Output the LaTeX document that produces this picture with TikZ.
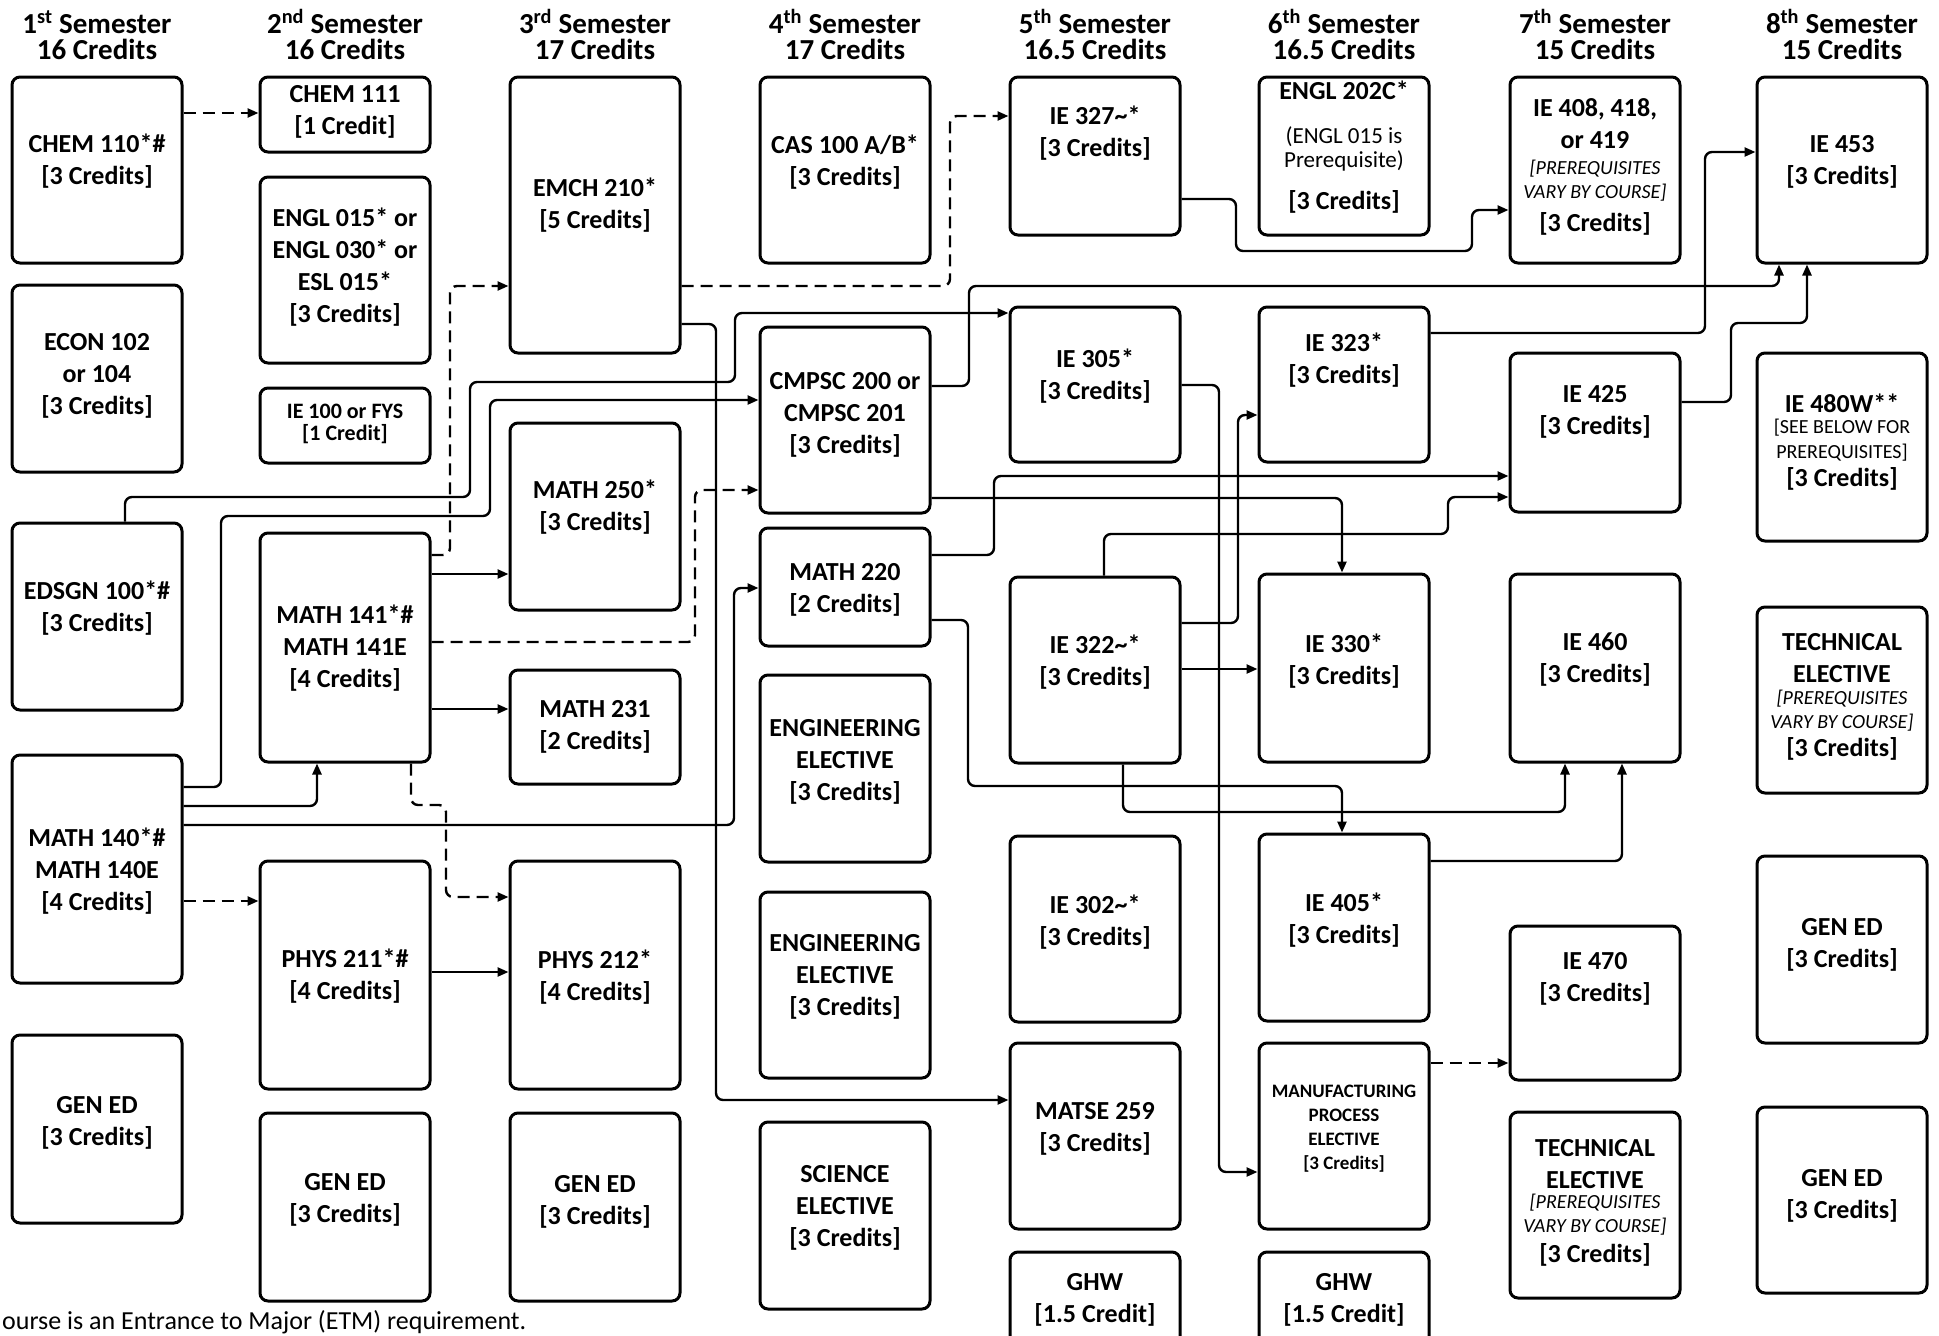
\documentclass[tikz,border=0pt]{standalone}
\usepackage{fontspec}
\setmainfont{Carlito}
\usetikzlibrary{arrows.meta}

\newcommand\bodyfont{\fontsize{26}{32}\selectfont\bfseries}
\newcommand\headfont{\fontsize{29}{27}\selectfont\bfseries}
\newcommand\smallit{\fontsize{20}{24}\selectfont\itshape}
\newcommand\smallrm{\fontsize{20}{25}\selectfont}
\newcommand\midrm{\fontsize{23}{24}\selectfont}

% name, cx, top, bottom, text centre y, text
\newcommand\course[7][]{%
  \node[box, minimum height=#5pt-#4pt] (#2) at (#3,{(#4+#5)/2}) {};
  \node[txt,#1] (#2-t) at (#3,#6) {#7};}
\newcommand\emptybox[4]{%
  \node[box, minimum height=#4pt-#3pt] (#1) at (#2,{(#3+#4)/2}) {};}

\begin{document}
\begin{tikzpicture}[x=1pt,y=-1pt,
  box/.style={draw, line width=3pt, rounded corners=8pt, minimum width=170pt, inner sep=0pt},
  txt/.style={align=center, font=\bodyfont, inner sep=0pt},
  hd/.style={font=\headfont, anchor=base, inner sep=0pt},
  conn/.style={line width=2.4pt, rounded corners=7pt, -{Triangle[length=11pt,width=9pt]}},
  dconn/.style={conn, dash pattern=on 12pt off 7pt}]

\useasboundingbox (0,0) rectangle (1939,1336);
\clip (0,0) rectangle (1939,1336);
\fill[white] (0,0) rectangle (1939,1336);

% headers
\foreach \x/\o/\s/\c [count=\i] in {97/1/st/16, 345/2/nd/16, 595/3/rd/17, 845/4/th/17, 1095/5/th/16.5, 1344/6/th/16.5, 1595/7/th/15, 1842/8/th/15} {
  \node[hd] (h\i a) at (\x,33) {\o\textsuperscript{\s} Semester};
  \node[hd] (h\i b) at (\x,59) {\c\ Credits};
}

% column 1
\course{chemA}{97}{77}{263}{161}{CHEM 110*\#\\{}[3 Credits]}
\course{econ}{97}{285}{472}{376}{ECON 102\\or 104\\{}[3 Credits]}
\course{edsgn}{97}{523}{710}{608}{EDSGN 100*\#\\{}[3 Credits]}
\course{mathA}{97}{755}{983}{871}{MATH 140*\#\\MATH 140E\\{}[4 Credits]}
\course{genA}{97}{1035}{1223}{1123}{GEN ED\\{}[3 Credits]}

% column 2
\course{chemB}{345}{77}{152}{112}{CHEM 111\\{}[1 Credit]}
\course{engl}{345}{177}{363}{267}{ENGL 015* or\\ENGL 030* or\\ESL 015*\\{}[3 Credits]}
\course[font=\fontsize{22}{22}\selectfont\bfseries]{ieA}{345}{388}{463}{424}{IE 100 or FYS\\{}[1 Credit]}
\course{mathB}{345}{533}{762}{648}{MATH 141*\#\\MATH 141E\\{}[4 Credits]}
\course{physA}{345}{861}{1089}{976}{PHYS 211*\#\\{}[4 Credits]}
\course{genB}{345}{1113}{1301}{1200}{GEN ED\\{}[3 Credits]}

% column 3
\course{emch}{595}{77}{353}{205}{EMCH 210*\\{}[5 Credits]}
\course{mathC}{595}{423}{610}{507}{MATH 250*\\{}[3 Credits]}
\course{mathD}{595}{670}{784}{727}{MATH 231\\{}[2 Credits]}
\course{physB}{595}{861}{1089}{977}{PHYS 212*\\{}[4 Credits]}
\course{genC}{595}{1113}{1301}{1202}{GEN ED\\{}[3 Credits]}

% column 4
\course{cas}{845}{77}{263}{162}{CAS 100 A/B*\\{}[3 Credits]}
\course{cmpsc}{845}{327}{513}{415}{CMPSC 200 or\\CMPSC 201\\{}[3 Credits]}
\course{mathE}{845}{528}{646}{590}{MATH 220\\{}[2 Credits]}
\course{engA}{845}{675}{862}{762}{ENGINEERING\\ELECTIVE\\{}[3 Credits]}
\course{engB}{845}{892}{1078}{977}{ENGINEERING\\ELECTIVE\\{}[3 Credits]}
\course{sci}{845}{1122}{1309}{1208}{SCIENCE\\ELECTIVE\\{}[3 Credits]}

% column 5
\course{ieB}{1095}{77}{235}{133}{IE 327\textasciitilde*\\{}[3 Credits]}
\course{ieC}{1095}{307}{462}{376}{IE 305*\\{}[3 Credits]}
\course{ieD}{1095}{577}{763}{662}{IE 322\textasciitilde*\\{}[3 Credits]}
\course{ieE}{1095}{836}{1022}{922}{IE 302\textasciitilde*\\{}[3 Credits]}
\course{matse}{1095}{1043}{1229}{1129}{MATSE 259\\{}[3 Credits]}
\course{ghwA}{1095}{1252}{1390}{1300}{GHW\\{}[1.5 Credit]}

% column 6
\emptybox{englB}{1344}{77}{235}
\node[txt] (englB-a) at (1344,90) {ENGL 202C*};
\node[txt,font=\midrm] (englB-b) at (1344,149) {(ENGL 015 is\\Prerequisite)};
\node[txt] (englB-c) at (1344,202) {[3 Credits]};
\course{ieF}{1344}{307}{462}{360}{IE 323*\\{}[3 Credits]}
\course{ieG}{1344}{574}{762}{661}{IE 330*\\{}[3 Credits]}
\course{ieH}{1344}{834}{1021}{920}{IE 405*\\{}[3 Credits]}
\course[font=\fontsize{19}{24}\selectfont\bfseries]{manuf}{1344}{1043}{1229}{1129}{MANUFACTURING\\PROCESS\\ELECTIVE\\{}[3 Credits]}
\course{ghwB}{1344}{1252}{1390}{1300}{GHW\\{}[1.5 Credit]}

% column 7
\emptybox{ieI}{1595}{77}{263}
\node[txt] (ieI-a) at (1595,124) {IE 408, 418,\\or 419};
\node[txt,font=\smallit] (ieI-b) at (1595,180.5) {[PREREQUISITES\\VARY BY COURSE]};
\node[txt] (ieI-c) at (1595,224) {[3 Credits]};
\course{ieJ}{1595}{353}{512}{412}{IE 425\\{}[3 Credits]}
\course{ieK}{1595}{574}{762}{660}{IE 460\\{}[3 Credits]}
\course{ieL}{1595}{926}{1080}{979}{IE 470\\{}[3 Credits]}
\emptybox{techA}{1595}{1112}{1298}
\node[txt] (techA-a) at (1595,1164) {TECHNICAL\\ELECTIVE};
\node[txt,font=\smallit] (techA-b) at (1595,1215) {[PREREQUISITES\\VARY BY COURSE]};
\node[txt] (techA-c) at (1595,1255) {[3 Credits]};

% column 8
\course{ieM}{1842}{77}{263}{162}{IE 453\\{}[3 Credits]}
\emptybox{ieN}{1842}{353}{541}
\node[txt] (ieN-a) at (1842,403) {IE 480W**};
\node[txt,font=\smallrm] (ieN-b) at (1842,440.5) {[SEE BELOW FOR\\PREREQUISITES]};
\node[txt] (ieN-c) at (1842,479) {[3 Credits]};
\emptybox{techB}{1842}{607}{793}
\node[txt] (techB-a) at (1842,658) {TECHNICAL\\ELECTIVE};
\node[txt,font=\smallit] (techB-b) at (1842,710.5) {[PREREQUISITES\\VARY BY COURSE]};
\node[txt] (techB-c) at (1842,749) {[3 Credits]};
\course{genD}{1842}{856}{1043}{945}{GEN ED\\{}[3 Credits]}
\course{genE}{1842}{1107}{1293}{1196}{GEN ED\\{}[3 Credits]}

% footnote
\node[anchor=base west, font=\fontsize{26}{30}\selectfont, inner sep=0pt] (note) at (2,1329) {ourse is an Entrance to Major (ETM) requirement.};

% connectors
\draw[dconn] (chemA.east |- 0,113) -- (chemB.west |- 0,113);
\draw[dconn] (mathB.east |- 0,555) -| (450,286) -- (emch.west |- 0,286);
\draw[dconn] (emch.east |- 0,286) -| (950,116) -- (ieB.west |- 0,116);
\draw[conn] (emch.east |- 0,324) -| (716,1100) -- (matse.west |- 0,1100);
\draw[conn] (edsgn.north -| 125,0) |- (470,497) |- (735,382) |- (ieC.west |- 0,313);
\draw[conn] (mathA.east |- 0,787) -| (221,516) -| (490,400) -- (cmpsc.west |- 0,400);
\draw[conn] (mathA.east |- 0,806) -| (mathB.south -| 317,0);
\draw[conn] (mathA.east |- 0,825) -| (734,588) -- (mathE.west |- 0,588);
\draw[dconn] (mathA.east |- 0,901) -- (physA.west |- 0,901);
\draw[conn] (physA.east |- 0,972) -- (physB.west |- 0,972);
\draw[conn] (mathB.east |- 0,574) -- (mathC.west |- 0,574);
\draw[conn] (mathB.east |- 0,709) -- (mathD.west |- 0,709);
\draw[dconn] (mathB.east |- 0,642) -| (695,490) -- (cmpsc.west |- 0,490);
\draw[dconn] (mathB.south -| 411,0) |- (446,805) |- (physB.west |- 0,897);
\draw[conn] (cmpsc.east |- 0,386) -| (969,286) -| (ieM.south -| 1779,0);
\draw[conn] (ieF.east |- 0,333) -| (1705,152) -- (ieM.west |- 0,152);
\draw[conn] (ieJ.east |- 0,402) -| (1731,323) -| (ieM.south -| 1807,0);
\draw[conn] (ieB.east |- 0,199) -| (1236,251) -| (1472,210) -- (ieI.west |- 0,210);
\draw[conn] (ieC.east |- 0,385) -| (1219,1172) -- (manuf.west |- 0,1172);
\draw[conn] (ieD.east |- 0,623) -| (1238,415) -- (ieF.west |- 0,415);
\draw[conn] (cmpsc.east |- 0,498) -| (ieG.north -| 1342,0);
\draw[conn] (mathE.east |- 0,555) -| (994,476) -- (ieJ.west |- 0,476);
\draw[conn] (ieD.north -| 1104,0) |- (1448,534) |- (ieJ.west |- 0,497);
\draw[conn] (ieD.east |- 0,669) -- (ieG.west |- 0,669);
\draw[conn] (mathE.east |- 0,620) -| (968,786) -| (ieH.north -| 1342,0);
\draw[conn] (ieD.south -| 1123,0) |- (1565,812) -- (ieK.south -| 1565,0);
\draw[conn] (ieH.east |- 0,861) -| (ieK.south -| 1622,0);
\draw[dconn] (manuf.east |- 0,1063) -- (ieL.west |- 0,1063);
\end{tikzpicture}
\end{document}
